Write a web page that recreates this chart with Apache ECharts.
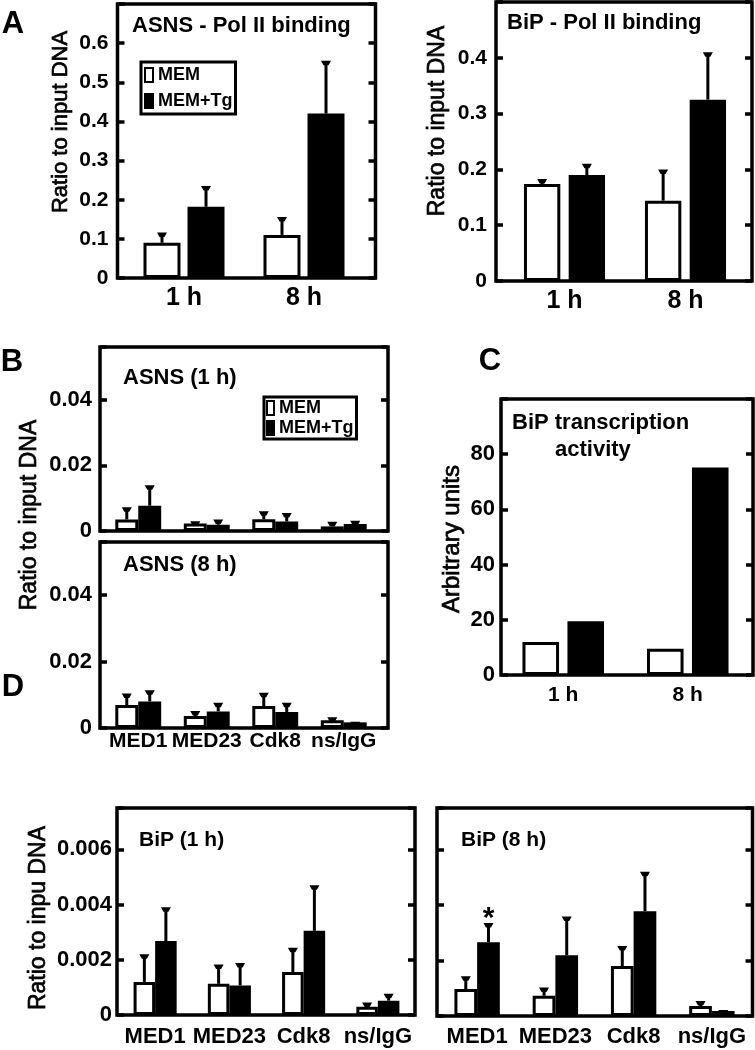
<!DOCTYPE html>
<html>
<head>
<meta charset="utf-8">
<script src="https://cdn.jsdelivr.net/npm/echarts@6/dist/echarts.min.js"></script>
<style>
html,body{margin:0;padding:0;background:#fff;}
#chart{width:755px;height:1050px;}
</style>
</head>
<body>
<div id="chart"></div>
<script>
// ---------------- DATA ----------------
const timeCats = ['1 h', '8 h'];
const factorCats = ['MED1', 'MED23', 'Cdk8', 'ns/IgG'];
const seriesNames = ['MEM', 'MEM+Tg'];

// A: ASNS - Pol II binding
const asnsPolMem = [0.09, 0.11];
const asnsPolMemErr = [0.026, 0.046];
const asnsPolTg = [0.182, 0.42];
const asnsPolTgErr = [0.053, 0.135];
const asnsPolTicks = [0, 0.1, 0.2, 0.3, 0.4, 0.5, 0.6];

// A: BiP - Pol II binding
const bipPolMem = [0.174, 0.144];
const bipPolMemErr = [0.009, 0.056];
const bipPolTg = [0.19, 0.325];
const bipPolTgErr = [0.02, 0.085];
const bipPolTicks = [0, 0.1, 0.2, 0.3, 0.4];

// B: ASNS (1 h) / ASNS (8 h)
const asns1hMem = [0.0035, 0.0023, 0.0036, 0.0014];
const asns1hMemErr = [0.0037, 0.0007, 0.0024, 0.0014];
const asns1hTg = [0.0077, 0.0019, 0.0029, 0.0021];
const asns1hTgErr = [0.0062, 0.0016, 0.0026, 0.001];
const asns8hMem = [0.0069, 0.0036, 0.0066, 0.0023];
const asns8hMemErr = [0.0035, 0.0015, 0.004, 0.0009];
const asns8hTg = [0.008, 0.005, 0.0048, 0.0017];
const asns8hTgErr = [0.0034, 0.0026, 0.0028, 0.0002];
const asnsMedTicks = [0, 0.02, 0.04];

// C: BiP transcription activity
const bipTxMem = [12, 9.5];
const bipTxTg = [19.5, 75.2];
const bipTxTicks = [0, 20, 40, 60, 80];

// D: BiP (1 h) / BiP (8 h)
const bip1hMem = [0.0012, 0.00113, 0.00156, 0.0003];
const bip1hMemErr = [0.001, 0.0007, 0.00088, 0.00015];
const bip1hTg = [0.00268, 0.00107, 0.00305, 0.00052];
const bip1hTgErr = [0.00122, 0.00081, 0.00165, 0.00025];
const bip8hMem = [0.00097, 0.00073, 0.0018, 0.00036];
const bip8hMemErr = [0.00046, 0.0003, 0.00072, 0.00018];
const bip8hTg = [0.00266, 0.00219, 0.00378, 0.00018];
const bip8hTgErr = [0.00069, 0.0014, 0.00142, 0.00004];
const bipMedTicks = [0, 0.002, 0.004, 0.006];
const bip8hStarCats = ['MED1'];   // asterisk over MEM+Tg bar

// ---------------- LAYOUT / STYLE ----------------
const FONT = '"Liberation Sans", Arial, sans-serif';
const panels = [
  { cats: timeCats, mem: asnsPolMem, memErr: asnsPolMemErr, tg: asnsPolTg, tgErr: asnsPolTgErr, ticks: asnsPolTicks, max: 0.7,
    frame: {l:117.5, t:4, r:375.5, b:278}, grid: {l:124, r:364}, catGap:0.325, barGap:0.19,
    yLab: {show:true, size:21, margin:9}, xLab: {show:true, size:25, margin:8} },
  { cats: timeCats, mem: bipPolMem, memErr: bipPolMemErr, tg: bipPolTg, tgErr: bipPolTgErr, ticks: bipPolTicks, max: 0.5,
    frame: {l:496, t:2, r:752, b:281}, grid: {l:504, r:746}, catGap:0.33, barGap:0.23,
    yLab: {show:true, size:21, margin:9}, xLab: {show:true, size:25, margin:8} },
  { cats: factorCats, mem: asns1hMem, memErr: asns1hMemErr, tg: asns1hTg, tgErr: asns1hTgErr, ticks: asnsMedTicks, max: 0.056,
    frame: {l:100, t:347, r:388, b:531}, grid: {l:104, r:378}, catGap:0.33, barGap:0,
    yLab: {show:true, size:22, margin:8}, xLab: {show:false, size:21, margin:3} },
  { cats: factorCats, mem: asns8hMem, memErr: asns8hMemErr, tg: asns8hTg, tgErr: asns8hTgErr, ticks: asnsMedTicks, max: 0.056,
    frame: {l:100, t:542, r:388, b:728}, grid: {l:104, r:378}, catGap:0.33, barGap:0,
    yLab: {show:true, size:22, margin:8}, xLab: {show:true, size:21, margin:3} },
  { cats: timeCats, mem: bipTxMem, memErr: null, tg: bipTxTg, tgErr: null, ticks: bipTxTicks, max: 100,
    frame: {l:501, t:399, r:753, b:675}, grid: {l:501, r:750}, catGap:0.345, barGap:0.23,
    yLab: {show:true, size:22, margin:6}, xLab: {show:true, size:21, margin:10} },
  { cats: factorCats, mem: bip1hMem, memErr: bip1hMemErr, tg: bip1hTg, tgErr: bip1hTgErr, ticks: bipMedTicks, max: 0.0075,
    frame: {l:117, t:808, r:415, b:1015}, grid: {l:118, r:415}, catGap:0.42, barGap:0,
    yLab: {show:true, size:22, margin:5}, xLab: {show:true, size:22, margin:11} },
  { cats: factorCats, mem: bip8hMem, memErr: bip8hMemErr, tg: bip8hTg, tgErr: bip8hTgErr, ticks: bipMedTicks, max: 0.0075,
    frame: {l:437, t:808, r:752.5, b:1016}, grid: {l:438, r:751}, catGap:0.42, barGap:0,
    yLab: {show:false, size:22, margin:5}, xLab: {show:true, size:22, margin:10}, star: bip8hStarCats }
];

const texts = [
  // panel letters
  {t:'A', x:13, y:24, size:31, bold:true, align:'center'},
  {t:'B', x:12, y:362, size:31, bold:true, align:'center'},
  {t:'C', x:490, y:361, size:31, bold:true, align:'center'},
  {t:'D', x:13, y:687, size:31, bold:true, align:'center'},
  // titles
  {t:'ASNS - Pol II binding', x:132, y:25.5, size:22, bold:true},
  {t:'BiP - Pol II binding', x:507, y:23, size:22, bold:true},
  {t:'ASNS (1 h)', x:123, y:378, size:22, bold:true},
  {t:'ASNS (8 h)', x:123, y:565, size:22, bold:true},
  {t:'BiP transcription', x:512, y:423, size:22, bold:true},
  {t:'activity', x:555, y:450, size:22, bold:true},
  {t:'BiP (1 h)', x:139, y:840, size:21, bold:true},
  {t:'BiP (8 h)', x:461, y:840, size:21, bold:true},
  // axis names (rotated)
  {t:'Ratio to input DNA', x:61, y:122, size:22, rot:true, align:'center'},
  {t:'Ratio to input DNA', x:438, y:121, size:23, rot:true, align:'center'},
  {t:'Ratio to input DNA', x:30, y:515, size:23, rot:true, align:'center'},
  {t:'Arbitrary units', x:452, y:539, size:24, rot:true, align:'center'},
  {t:'Ratio to inpu DNA', x:39, y:918, size:23, rot:true, align:'center'}
];

// ---------------- BUILD ----------------
function errRenderer(p) {
  return function (params, api) {
    const cat = api.value(0), val = api.value(1), err = api.value(2), idx = api.value(3);
    const base = api.coord([cat, val]);
    const top = api.coord([cat, val + err]);
    const band = api.size([1, 0])[0];
    const w = band * (1 - p.catGap) / (2 + p.barGap);
    const start = -(2 * w + p.barGap * w) / 2;
    const x = base[0] + start + idx * w * (1 + p.barGap) + w / 2;
    const yt = top[1];
    return { type: 'group', children: [
      { type: 'line', shape: {x1: x, y1: base[1], x2: x, y2: yt + 2}, style: {stroke: '#000', lineWidth: 3} },
      { type: 'polygon', shape: {points: [[x - 5, yt], [x + 5, yt], [x + 2.5, yt + 4.5], [x - 2.5, yt + 4.5]]}, style: {fill: '#000'} }
    ]};
  };
}
function starRenderer(p) {
  return function (params, api) {
    const cat = api.value(0), val = api.value(1), idx = api.value(2);
    const c = api.coord([cat, val]);
    const band = api.size([1, 0])[0];
    const w = band * (1 - p.catGap) / (2 + p.barGap);
    const start = -(2 * w + p.barGap * w) / 2;
    const x = c[0] + start + idx * w * (1 + p.barGap) + w / 2;
    return { type: 'text', x: x, y: c[1] - 4,
      style: {text: '*', fontSize: 30, fontWeight: 'bold', fontFamily: FONT, fill: '#000', align: 'center', verticalAlign: 'middle'} };
  };
}

const option = {
  animation: false,
  backgroundColor: '#fff',
  textStyle: {fontFamily: FONT},
  grid: [], xAxis: [], yAxis: [], series: [], legend: [], graphic: []
};

panels.forEach((p, i) => {
  const f = p.frame, g = p.grid;
  option.grid.push({left: g.l, top: f.t, width: g.r - g.l, height: f.b - f.t, outerBoundsMode: 'none', containLabel: false});
  option.xAxis.push({
    gridIndex: i, type: 'category', data: p.cats,
    axisLine: {show: false}, axisTick: {show: false}, splitLine: {show: false},
    axisLabel: {show: p.xLab.show, interval: 0, fontSize: p.xLab.size, fontWeight: 'bold', color: '#000', margin: p.xLab.margin, fontFamily: FONT}
  });
  const yBase = {
    gridIndex: i, type: 'value', min: 0, max: p.max, interval: p.ticks[1] - p.ticks[0],
    axisLine: {show: false}, splitLine: {show: false},
    axisTick: {show: true, inside: true, length: 7, lineStyle: {color: '#000', width: 3.5}}
  };
  option.yAxis.push(Object.assign({}, yBase, {
    position: 'left', offset: g.l - f.l,
    axisLabel: {show: p.yLab.show, fontSize: p.yLab.size, fontWeight: 'bold', color: '#000', margin: p.yLab.margin, fontFamily: FONT,
      showMaxLabel: true,
      formatter: v => p.ticks.some(t => Math.abs(t - v) < 1e-9) ? String(+(+v).toPrecision(6)) : ''}
  }));
  option.yAxis.push(Object.assign({}, yBase, {
    position: 'right', offset: f.r - g.r, axisLabel: {show: false}
  }));
  const yi = option.yAxis.length - 2;
  const common = {type: 'bar', xAxisIndex: i, yAxisIndex: yi, barCategoryGap: (p.catGap * 100) + '%', barGap: (p.barGap * 100) + '%', silent: true};
  option.series.push(Object.assign({}, common, {name: seriesNames[0], data: p.mem,
    itemStyle: {color: '#fff', borderColor: '#000', borderWidth: 3}}));
  option.series.push(Object.assign({}, common, {name: seriesNames[1], data: p.tg,
    itemStyle: {color: '#000', borderColor: '#000', borderWidth: 3}}));
  if (p.memErr) {
    const rows = [];
    p.mem.forEach((v, k) => rows.push([k, v, p.memErr[k], 0]));
    p.tg.forEach((v, k) => rows.push([k, v, p.tgErr[k], 1]));
    option.series.push({type: 'custom', xAxisIndex: i, yAxisIndex: yi, data: rows, renderItem: errRenderer(p), z: 5, silent: true});
  }
  if (p.star) {
    const rows = p.star.map(c => { const k = p.cats.indexOf(c); return [k, p.tg[k] + p.tgErr[k], 1]; });
    option.series.push({type: 'custom', xAxisIndex: i, yAxisIndex: yi, data: rows, renderItem: starRenderer(p), z: 6, silent: true});
  }
  option.graphic.push({type: 'rect', z: 100, silent: true,
    shape: {x: f.l, y: f.t, width: f.r - f.l, height: f.b - f.t},
    style: {fill: 'none', stroke: '#000', lineWidth: 3.5}});
});

option.legend.push({
  data: seriesNames, left: 141, top: 62, orient: 'vertical', icon: 'rect', selectedMode: false,
  itemWidth: 8, itemHeight: 14, itemGap: 6, padding: [3, 3, 3, 3],
  borderColor: '#000', borderWidth: 3, backgroundColor: '#fff',
  itemStyle: {borderWidth: 2},
  textStyle: {fontSize: 18, fontWeight: 'bold', color: '#000', lineHeight: 20, fontFamily: FONT}
});
option.legend.push({
  data: seriesNames, left: 264, top: 397, orient: 'vertical', icon: 'rect', selectedMode: false,
  itemWidth: 7, itemHeight: 14, itemGap: 2, padding: [2, 3, 2, 2],
  borderColor: '#000', borderWidth: 3, backgroundColor: '#fff',
  itemStyle: {borderWidth: 2},
  textStyle: {fontSize: 18, fontWeight: 'bold', color: '#000', lineHeight: 18, fontFamily: FONT}
});

texts.forEach(t => {
  const st = {text: t.t, fontSize: t.size, fontWeight: t.bold ? 'bold' : 'normal', fontFamily: FONT, fill: '#000',
      align: t.align || 'left', verticalAlign: 'middle'};
  if (t.rot) { st.stroke = '#000'; st.lineWidth = 0.7; }
  option.graphic.push({
    type: 'text', x: t.x, y: t.y, rotation: t.rot ? Math.PI / 2 : 0, silent: true, z: 50, style: st
  });
});

const chart = echarts.init(document.getElementById('chart'), null, {renderer: 'canvas'});
chart.setOption(option);
</script>
</body>
</html>
